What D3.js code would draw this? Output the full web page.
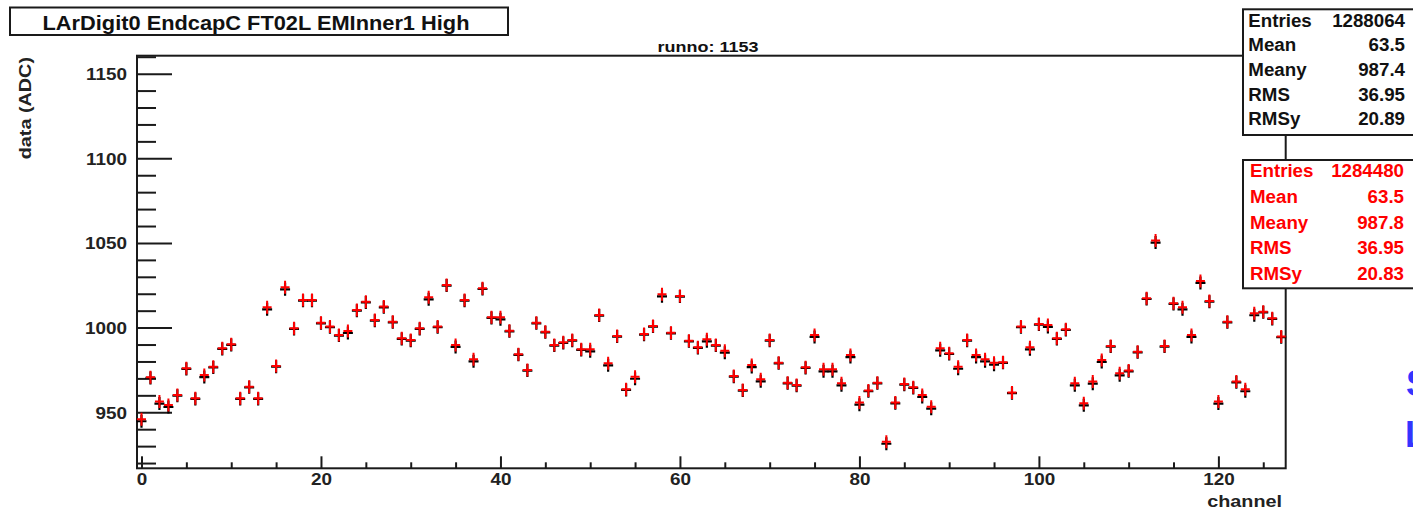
<!DOCTYPE html>
<html><head><meta charset="utf-8">
<script src="https://cdn.jsdelivr.net/npm/d3@7"></script>
<style>
html,body{margin:0;padding:0;background:#fff;}
svg{display:block;}
text{font-family:"Liberation Sans",Arial,Helvetica,sans-serif;font-weight:bold;}
</style></head>
<body>
<script>
// ---- data ----
const channels = d3.range(0, 128);
const redValues = [
945.9,970.7,956.3,954.3,960.2,976.0,958.3,972.0,976.9,987.8,
990.2,958.3,965.1,958.3,1012.0,977.3,1023.8,999.6,1016.3,1016.3,
1002.9,1000.6,995.7,998.0,1010.4,1015.3,1004.5,1012.4,1003.5,993.7,
992.7,999.6,1017.9,1000.6,1025.2,989.8,1016.3,981.3,1023.2,1006.1,
1006.1,998.2,984.3,975.0,1002.9,997.6,989.8,991.3,992.7,987.2,
987.2,1007.5,978.9,995.1,963.6,971.0,996.2,1001.0,1019.7,997.0,
1018.7,992.3,988.4,993.1,989.8,986.4,971.4,963.2,977.9,969.5,
992.7,979.3,967.5,966.1,976.6,995.7,975.4,975.4,967.1,983.8,
955.7,962.8,967.5,932.6,955.7,966.7,964.8,960.2,953.3,987.8,
984.8,976.9,992.7,983.8,981.3,979.3,979.6,961.7,1000.6,988.4,
1002.2,1001.6,993.7,999.0,967.1,955.3,968.1,980.9,989.2,973.0,
974.6,985.8,1017.3,1051.4,989.2,1014.4,1012.0,995.7,1027.6,1015.7,
956.3,1003.5,968.1,963.6,1008.5,1009.4,1005.5,994.7];
const blackValues = [
944.7,970.3,955.1,953.1,959.8,975.6,957.9,970.8,976.5,987.4,
989.8,957.9,964.7,957.9,1010.8,976.9,1022.6,999.2,1015.9,1015.9,
1002.5,1000.2,995.3,996.8,1010.0,1014.9,1004.1,1012.0,1003.1,993.3,
992.3,999.2,1016.7,1000.2,1024.8,988.6,1015.9,980.1,1022.8,1005.7,
1004.9,997.8,983.9,974.6,1002.5,997.2,989.4,990.9,992.3,986.8,
986.0,1007.1,977.7,994.7,963.2,969.8,995.8,1000.6,1018.5,996.6,
1018.3,991.9,988.0,991.9,989.4,985.2,971.0,962.8,976.7,968.3,
992.3,978.9,967.1,965.7,976.2,994.5,974.2,974.2,965.9,982.6,
954.5,962.4,967.1,931.4,955.3,966.3,964.4,959.0,952.1,986.6,
984.4,975.7,992.3,982.6,980.1,978.1,979.2,961.3,1000.2,987.2,
1001.8,1000.4,993.3,998.6,965.9,954.1,966.9,979.7,988.8,971.8,
974.2,985.4,1016.9,1050.2,988.8,1014.0,1010.8,994.5,1026.4,1015.3,
955.1,1003.1,967.7,962.4,1007.3,1009.0,1005.1,994.3];
const yMajorTicks = [950, 1000, 1050, 1100, 1150];
const yMinorTicks = [920,930,940,960,970,980,990,1010,1020,1030,1040,1060,1070,1080,1090,1110,1120,1130,1140,1160];
const xMajorTicks = [0, 20, 40, 60, 80, 100, 120];
const xMinorTicks = [5,10,15,25,30,35,45,50,55,65,70,75,85,90,95,105,110,115,125];
const titleText = "LArDigit0 EndcapC FT02L EMInner1 High";
const runText = "runno: 1153";
const statLabels = ["Entries", "Mean", "Meany", "RMS", "RMSy"];
const statValuesBlack = ["1288064", "63.5", "987.4", "36.95", "20.89"];
const statValuesRed = ["1284480", "63.5", "987.8", "36.95", "20.83"];

// ---- layout ----
const W = 1413, H = 509;
const L = 137, R = 1285.7, T = 55.7, B = 468.3;
const svg = d3.select("body").append("svg").attr("width", W).attr("height", H);
svg.append("rect").attr("width", W).attr("height", H).attr("fill", "#fff");

const x = d3.scaleLinear().domain([-0.5, 127.5]).range([L, R]);
const y = d3.scaleLinear().domain([916.9, 1160.6]).range([B, T]);

// frame
svg.append("rect").attr("x", L).attr("y", T).attr("width", R - L).attr("height", B - T)
  .attr("fill", "none").attr("stroke", "#1a1a1a").attr("stroke-width", 2);

// y axis
const gyMinor = svg.append("g").attr("transform", `translate(${L},0)`)
  .call(d3.axisLeft(y).tickValues(yMinorTicks).tickSize(-19).tickFormat(""));
const gy = svg.append("g").attr("transform", `translate(${L},0)`)
  .call(d3.axisLeft(y).tickValues(yMajorTicks).tickSize(-35).tickPadding(10).tickFormat(d3.format("d")));
[gyMinor, gy].forEach(g => {
  g.selectAll(".domain").remove();
  g.selectAll("line").attr("stroke", "#1a1a1a").attr("stroke-width", 2);
});
gy.selectAll("text").attr("x", 0).attr("dy", null)
  .attr("transform", "translate(-10,6) scale(1.18,1)")
  .attr("font-size", 16).attr("fill", "#222").attr("font-family", null);

// x axis
const gxMinor = svg.append("g").attr("transform", `translate(0,${B})`)
  .call(d3.axisBottom(x).tickValues(xMinorTicks).tickSize(-6).tickFormat(""));
const gx = svg.append("g").attr("transform", `translate(0,${B})`)
  .call(d3.axisBottom(x).tickValues(xMajorTicks).tickSize(-12).tickPadding(5.5).tickFormat(d3.format("d")));
[gxMinor, gx].forEach(g => {
  g.selectAll(".domain").remove();
  g.selectAll("line").attr("stroke", "#1a1a1a").attr("stroke-width", 2);
});
gx.selectAll("text").attr("x", 0).attr("transform", "scale(1.18,1)")
  .attr("font-size", 16).attr("fill", "#222").attr("font-family", null);

// axis titles
svg.append("text").attr("text-anchor", "end")
  .attr("transform", `translate(1282,506.5) scale(1.2,1)`)
  .attr("font-size", 16.5).attr("fill", "#222").text("channel");
svg.append("text").attr("text-anchor", "end")
  .attr("transform", `translate(31,57) rotate(-90) scale(1.2,1)`)
  .attr("font-size", 16.5).attr("fill", "#222").text("data (ADC)");

// markers
function cross(cx, cy, hw, hh) {
  return `M${cx - hw},${cy}H${cx + hw}M${cx},${cy - hh}V${cy + hh}`;
}
svg.append("g").selectAll("path").data(channels).join("path")
  .attr("d", c => cross(x(c), y(blackValues[c]), 5, 6.5))
  .attr("stroke", "#000").attr("stroke-width", 2.2).attr("fill", "none");
svg.append("g").selectAll("path").data(channels).join("path")
  .attr("d", c => cross(x(c), y(redValues[c]), 4.5, 6.5))
  .attr("stroke", "#ff0000").attr("stroke-width", 2).attr("fill", "none");

// title
svg.append("rect").attr("x", 10).attr("y", 7.5).attr("width", 498).attr("height", 27.5)
  .attr("fill", "#fff").attr("stroke", "#1a1a1a").attr("stroke-width", 2);
svg.append("text").attr("text-anchor", "middle")
  .attr("transform", "translate(256,29.5) scale(1.09,1)")
  .attr("font-size", 20).attr("fill", "#111").text(titleText);

svg.append("text").attr("text-anchor", "middle")
  .attr("transform", "translate(708,52) scale(1.24,1)")
  .attr("font-size", 14.5).attr("fill", "#111").text(runText);

// stat boxes
function statBox(top, bottom, labels, values, color, lx, rx, base, step) {
  svg.append("rect").attr("x", 1243).attr("y", top).attr("width", 190).attr("height", bottom - top)
    .attr("fill", "#fff").attr("stroke", "#1a1a1a").attr("stroke-width", 2);
  labels.forEach((lab, i) => {
    svg.append("text").attr("text-anchor", "start")
      .attr("transform", `translate(${lx},${base + i * step}) scale(1.07,1)`)
      .attr("font-size", 17.5).attr("fill", color).text(lab);
    svg.append("text").attr("text-anchor", "end")
      .attr("transform", `translate(${rx},${base + i * step}) scale(1.07,1)`)
      .attr("font-size", 17.5).attr("fill", color).text(values[i]);
  });
}
statBox(9.3, 135, statLabels, statValuesBlack, "#111", 1248.3, 1405, 26.7, 24.6);
statBox(160, 288.3, statLabels, statValuesRed, "#ff0000", 1250, 1404, 177.3, 25.6);

// cut-off blue text at right edge (as in the reference)
svg.append("text").attr("x", 1406).attr("y", 396).attr("font-size", 36)
  .attr("font-weight", "normal").attr("fill", "#3434ff").text("S");
svg.append("text").attr("x", 1405).attr("y", 447).attr("font-size", 36)
  .attr("font-weight", "normal").attr("fill", "#3434ff").text("L");
</script>
</body></html>
